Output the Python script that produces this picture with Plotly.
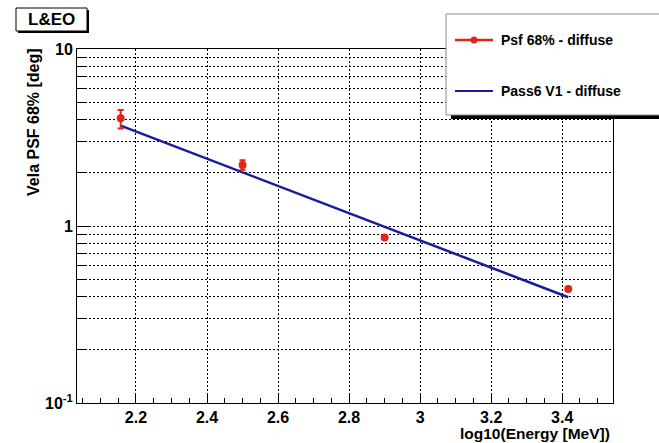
import plotly.graph_objects as go

# Measured PSF 68% containment (diffuse) vs log10 energy
log_energy = [2.157, 2.500, 2.900, 3.417]
psf68 = [4.06, 2.21, 0.86, 0.44]
psf68_err_up = [0.46, 0.14, 0.0, 0.0]
psf68_err_dn = [0.50, 0.13, 0.0, 0.0]

# Pass6 V1 instrument-response prediction
model_log_energy = [2.157, 3.417]
model_psf68 = [3.69, 0.396]

x_ticks = [2.2, 2.4, 2.6, 2.8, 3.0, 3.2, 3.4]
x_tick_text = ["2.2", "2.4", "2.6", "2.8", "3", "3.2", "3.4"]
y_ticks = [0.1, 1, 10]
y_tick_text = ["10<sup>-1</sup>", "1", "10"]

W, H = 659, 443
L, R, T, B = 77, 613, 49, 403

def px(x):
    return (x - L) / (R - L)

def py(y):
    return (B - y) / (B - T)

FONT = "Liberation Sans"
TICKFONT = dict(family="Liberation Sans Bold, Liberation Sans", size=16,
                color="black", weight="bold")
RED = "#e3241b"
BLUE = "#1a1a9e"
GRID = dict(showgrid=True, gridcolor="black", gridwidth=1, griddash="2px,2px")

fig = go.Figure()

fig.add_trace(go.Scatter(
    x=model_log_energy, y=model_psf68, mode="lines",
    line=dict(color=BLUE, width=2.5), name="Pass6 V1 - diffuse",
    showlegend=False))

fig.add_trace(go.Scatter(
    x=log_energy, y=psf68, mode="markers",
    marker=dict(color=RED, size=8),
    error_y=dict(type="data", array=psf68_err_up, arrayminus=psf68_err_dn,
                 color=RED, thickness=2, width=3),
    name="Psf 68% - diffuse", showlegend=False))

minor_y = [m * d for d in (0.1, 1) for m in range(2, 10)]

fig.update_xaxes(
    range=[2.034, 3.543], tickvals=x_ticks, ticktext=x_tick_text,
    ticks="inside", ticklen=10, tickwidth=1, tickcolor="black",
    showline=True, linecolor="black", linewidth=1, mirror=True,
    minor=dict(dtick=0.05, tick0=2.0, ticks="inside", ticklen=5,
               tickcolor="black", showgrid=False),
    tickfont=TICKFONT, zeroline=False, **GRID,
)
fig.update_yaxes(
    type="log", range=[-1, 1], tickvals=y_ticks, ticktext=y_tick_text,
    ticks="inside", ticklen=14, tickwidth=1, tickcolor="black",
    showline=True, linecolor="black", linewidth=1, mirror=True,
    minor=dict(tickvals=minor_y, ticks="inside", ticklen=8,
               tickcolor="black", **GRID),
    tickfont=TICKFONT, zeroline=False, **GRID,
)

shapes = []
annotations = []

# "L&EO" label box with drop shadow
shapes.append(dict(type="rect", xref="paper", yref="paper",
                   x0=px(18), x1=px(89), y0=py(33), y1=py(10),
                   fillcolor="black", line=dict(width=0), layer="above"))
shapes.append(dict(type="rect", xref="paper", yref="paper",
                   x0=px(16), x1=px(87), y0=py(31), y1=py(8),
                   fillcolor="white", line=dict(color="black", width=1),
                   layer="above"))
annotations.append(dict(text="L&amp;EO", xref="paper", yref="paper",
                        x=px(51.5), y=py(19.5), showarrow=False,
                        xanchor="center", yanchor="middle",
                        font=dict(family=FONT, size=17, color="black", weight=700)))

# Legend box with shadow
shapes.append(dict(type="rect", xref="paper", yref="paper",
                   x0=px(451), x1=px(700), y0=py(119), y1=py(30),
                   fillcolor="black", line=dict(width=0), layer="above"))
shapes.append(dict(type="rect", xref="paper", yref="paper",
                   x0=px(446), x1=px(700), y0=py(115), y1=py(14),
                   fillcolor="white", line=dict(color="#8a8a8a", width=1),
                   layer="above"))
shapes.append(dict(type="line", xref="paper", yref="paper",
                   x0=px(455), x1=px(493), y0=py(40), y1=py(40),
                   line=dict(color=RED, width=2.5), layer="above"))
shapes.append(dict(type="circle", xref="paper", yref="paper",
                   x0=px(470.5), x1=px(477.5), y0=py(43.5), y1=py(36.5),
                   fillcolor=RED, line=dict(color=RED, width=0), layer="above"))
shapes.append(dict(type="line", xref="paper", yref="paper",
                   x0=px(455), x1=px(493), y0=py(91), y1=py(91),
                   line=dict(color=BLUE, width=2), layer="above"))
annotations.append(dict(text="Psf 68% - diffuse", xref="paper", yref="paper",
                        x=px(499), y=py(40), showarrow=False,
                        xanchor="left", yanchor="middle",
                        font=dict(family=FONT, size=14, color="black", weight=700)))
annotations.append(dict(text="Pass6 V1 - diffuse", xref="paper", yref="paper",
                        x=px(499), y=py(91), showarrow=False,
                        xanchor="left", yanchor="middle",
                        font=dict(family=FONT, size=14, color="black", weight=700)))

# Axis titles
annotations.append(dict(text="Vela PSF 68% [deg]", xref="paper", yref="paper",
                        x=px(33), y=py(46), showarrow=False, textangle=-90,
                        xanchor="center", yanchor="top",
                        font=dict(family=FONT, size=16, color="black", weight=700)))
annotations.append(dict(text="log10(Energy [MeV])", xref="paper", yref="paper",
                        x=px(612), y=py(433), showarrow=False,
                        xanchor="right", yanchor="middle",
                        font=dict(family=FONT, size=15.5, color="black", weight=700)))

fig.update_layout(
    width=W, height=H,
    margin=dict(l=L, r=W - R, t=T, b=H - B),
    paper_bgcolor="white", plot_bgcolor="white",
    shapes=shapes, annotations=annotations,
    showlegend=False,
)

fig.write_html("out.html")
